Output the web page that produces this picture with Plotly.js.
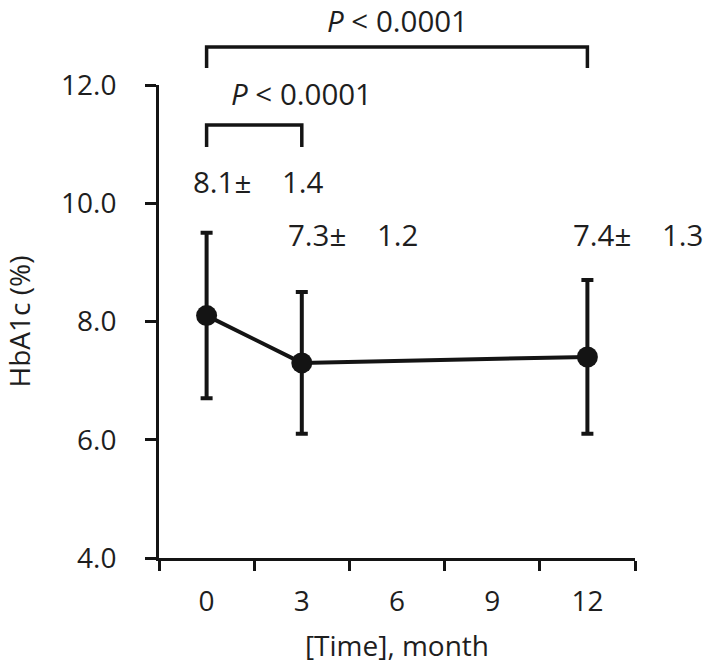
<!DOCTYPE html>
<html><head><meta charset="utf-8">
<script src="https://cdn.plot.ly/plotly-3.0.1.min.js"></script>
<style>body{margin:0;background:#fff}</style>
</head><body><div id="chart" style="width:708px;height:668px"></div>
<script>
// ---- data ----
const months = ["0", "3", "6", "9", "12"];          // x-axis tick labels (month)
const timePoints = ["0", "3", "12"];                 // measured time points
const hba1cMean = [8.1, 7.3, 7.4];                   // HbA1c mean (%)
const hba1cSD = [1.4, 1.2, 1.3];                     // HbA1c SD (%)
const yTickVals = [4, 6, 8, 10, 12];
const yTickText = ["4.0", "6.0", "8.0", "10.0", "12.0"];
const comparisons = [["0", "3"], ["0", "12"]];
const pValueText = ["<i>P</i> < 0.0001", "<i>P</i> < 0.0001"];

// ---- layout helpers ----
const FONT = "Open Sans, Noto Sans, sans-serif";
const TXT = "#1e1e1e";
const INK = "#141414";
const FS = 28;
const AFS = 29.5;
const labelY = [10.36, 9.47, 9.47];
// bracket geometry in paper units: [top, leg bottom], label y, label x index
const bracketGeom = [
  {top: 0.9154, leg: 0.8689, labelY: 0.983, labelX: 1},
  {top: 1.0803, leg: 1.0359, labelY: 1.137, labelX: 2}
];

const trace = {
  type: "scatter",
  mode: "lines+markers",
  x: timePoints,
  y: hba1cMean,
  line: {color: INK, width: 4},
  marker: {color: INK, size: 21},
  error_y: {type: "data", array: hba1cSD, visible: true, color: INK, thickness: 4, width: 6},
  cliponaxis: false,
  hoverinfo: "skip"
};

const annotations = [];
timePoints.forEach((t, i) => {
  annotations.push({
    x: months.indexOf(t), y: labelY[i], xref: "x", yref: "y",
    text: hba1cMean[i].toFixed(1) + "±\u00a0\u00a0\u00a0 " + hba1cSD[i].toFixed(1),
    showarrow: false, xanchor: "left", yanchor: "middle", xshift: -16,
    font: {family: FONT, size: AFS, color: TXT}
  });
});

const shapes = [];
comparisons.forEach((c, k) => {
  const g = bracketGeom[k];
  const x0 = months.indexOf(c[0]), x1 = months.indexOf(c[1]);
  shapes.push({
    type: "path", xref: "x", yref: "paper",
    path: `M ${x0} ${g.leg} L ${x0} ${g.top} L ${x1} ${g.top} L ${x1} ${g.leg}`,
    line: {color: INK, width: 3.5}
  });
  annotations.push({
    x: g.labelX, y: g.labelY, xref: "x", yref: "paper",
    text: pValueText[k], showarrow: false, xanchor: "center", yanchor: "middle",
    font: {family: FONT, size: AFS, color: TXT}
  });
});

const layout = {
  width: 708, height: 668,
  margin: {l: 159, r: 73, t: 85, b: 110},
  paper_bgcolor: "#fff", plot_bgcolor: "#fff",
  showlegend: false,
  font: {family: FONT, size: FS, color: TXT},
  xaxis: {
    type: "category", categoryorder: "array", categoryarray: months,
    range: [-0.5, 4.5], tickson: "boundaries",
    ticks: "outside", ticklen: 10, tickwidth: 3, tickcolor: INK,
    showline: true, linewidth: 3, linecolor: INK,
    showgrid: false, zeroline: false, ticklabelstandoff: 16,
    tickfont: {family: FONT, size: FS, color: TXT},
    title: {text: "[Time], month", font: {family: FONT, size: FS, color: TXT}, standoff: 19}
  },
  yaxis: {
    range: [4, 12], tickvals: yTickVals, ticktext: yTickText,
    ticks: "outside", ticklen: 11, tickwidth: 3, tickcolor: INK,
    showline: true, linewidth: 3, linecolor: INK,
    showgrid: false, zeroline: false, ticklabelstandoff: 23,
    tickfont: {family: FONT, size: FS, color: TXT},
    title: {text: "HbA1c (%)", font: {family: FONT, size: FS, color: TXT}, standoff: 26}
  },
  shapes: shapes,
  annotations: annotations
};

Plotly.newPlot("chart", [trace], layout, {displayModeBar: false, staticPlot: true});
</script>
</body></html>
